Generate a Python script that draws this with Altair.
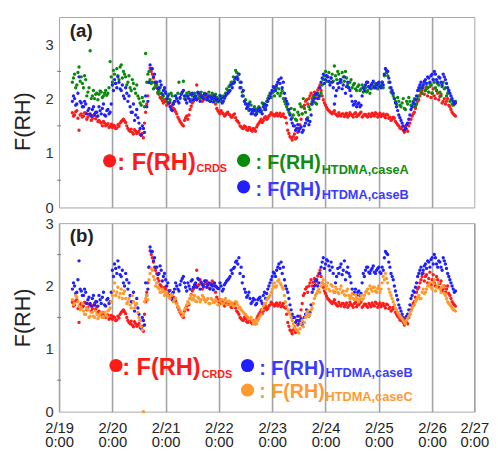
import altair as alt
import pandas as pd

# time axis: hours since 2/19 0:00 (readings on the hour and on the half hour)
hours = list(range(6, 179))
hours_half = [h + 0.5 for h in hours]

crds = [
    1.74, 1.70, 1.78, 1.42, 1.72, 1.68, 1.73, 1.66, 1.70, 1.64, 1.72, 1.67,
    1.60, 1.55, 1.58, 1.50, 1.54, 1.49, 1.47, 1.50, 1.46, 1.49, 1.58, 1.62,
    1.56, 1.45, 1.40, 1.38, 1.43, 1.36, 1.40, 1.32, 1.28, 1.75, 2.05, 2.56,
    2.45, 2.30, 2.20, 2.08, 2.00, 1.92, 1.95, 1.90, 1.93, 1.88, 1.80, 1.72,
    1.62, 1.55, 1.50, 1.65, 1.62, 1.80, 1.92, 1.98, 2.25, 2.02, 2.06, 1.98,
    2.05, 2.02, 1.96, 2.08, 2.00, 1.82, 1.75, 1.78, 1.72, 1.70, 1.75, 1.70,
    1.66, 1.72, 1.60, 1.55, 1.48, 1.45, 1.48, 1.42, 1.46, 1.40, 1.44, 1.48,
    1.55, 1.62, 1.60, 1.67, 1.64, 1.70, 1.72, 1.68, 1.73, 1.70, 1.67, 1.72,
    1.65, 1.42, 1.30, 1.24, 1.35, 1.28, 1.45, 1.62, 1.85, 1.95, 1.90, 2.05,
    2.00, 2.12, 2.08, 2.20, 2.15, 1.98, 1.88, 1.80, 1.76, 1.72, 1.78, 1.70,
    1.74, 1.68, 1.72, 1.70, 1.66, 1.74, 1.69, 1.72, 1.67, 1.70, 1.75, 1.68,
    1.71, 1.66, 1.70, 1.73, 1.68, 1.72, 1.70, 1.67, 1.72, 1.65, 1.70, 1.66,
    1.62, 1.64, 1.55, 1.50, 1.45, 1.42, 1.48, 1.40, 1.55, 1.68, 1.75, 1.90,
    1.98, 2.10, 2.20, 2.15, 2.05, 2.22, 2.10, 2.05, 2.15, 1.98, 2.08, 1.95,
    1.90, 2.00, 1.85, 1.75, 1.70,
]
crds_half = [
    1.68, 1.76, 1.64, 1.70, 1.66, 1.74, 1.62, 1.71, 1.60, 1.69, 1.63, 1.58,
    1.57, 1.50, 1.55, 1.52, 1.47, 1.53, 1.51, 1.45, 1.52, 1.55, 1.60, 1.59,
    1.50, 1.42, 1.44, 1.35, 1.40, 1.38, 1.34, 1.36, 1.55, 1.90, 2.30, 2.50,
    2.38, 2.25, 2.12, 2.02, 1.96, 1.98, 1.88, 1.92, 1.85, 1.82, 1.76, 1.66,
    1.58, 1.52, 1.60, 1.68, 1.70, 1.86, 1.95, 2.02, 2.00, 2.10, 1.95, 2.03,
    2.08, 1.97, 2.04, 2.02, 1.90, 1.78, 1.72, 1.74, 1.68, 1.73, 1.71, 1.66,
    1.70, 1.65, 1.58, 1.50, 1.46, 1.50, 1.43, 1.47, 1.42, 1.45, 1.40, 1.52,
    1.58, 1.56, 1.65, 1.62, 1.68, 1.74, 1.70, 1.71, 1.68, 1.73, 1.69, 1.66,
    1.55, 1.36, 1.28, 1.30, 1.26, 1.38, 1.52, 1.72, 1.88, 1.98, 2.00, 2.10,
    2.06, 2.02, 2.16, 2.25, 2.05, 1.92, 1.84, 1.78, 1.74, 1.75, 1.72, 1.68,
    1.70, 1.72, 1.67, 1.73, 1.69, 1.71, 1.66, 1.74, 1.70, 1.73, 1.66, 1.71,
    1.68, 1.72, 1.67, 1.70, 1.74, 1.66, 1.73, 1.70, 1.68, 1.71, 1.64, 1.60,
    1.66, 1.58, 1.52, 1.46, 1.48, 1.38, 1.44, 1.50, 1.62, 1.72, 1.82, 1.95,
    2.05, 2.15, 2.08, 2.18, 2.12, 2.02, 2.18, 2.00, 2.10, 2.04, 1.92, 2.00,
    1.95, 1.88, 1.80, 1.72, 1.68,
]

case_a = [
    2.30, 2.45, 2.25, 2.58, 2.40, 2.20, 2.35, 2.12, 2.88, 2.05, 2.00, 2.10,
    2.08, 2.12, 2.05, 2.15, 2.10, 2.68, 2.30, 2.45, 2.55, 2.35, 2.62, 2.50,
    2.40, 2.30, 2.20, 2.35, 2.18, 2.25, 2.00, 1.88, 1.95, 2.83, 2.45, 2.35,
    2.30, 2.20, 2.25, 2.15, 2.10, 2.05, 2.12, 2.00, 1.98, 2.05, 1.95, 2.00,
    2.30, 2.08, 2.32, 2.05, 2.02, 2.08, 2.05, 2.10, 2.00, 2.06, 2.12, 2.02,
    2.08, 1.98, 2.05, 2.10, 1.96, 2.02, 2.00, 1.95, 2.05, 2.10, 2.15, 2.25,
    2.30, 2.35, 2.48, 2.45, 2.20, 2.05, 1.98, 1.85, 1.94, 1.80, 1.85, 1.75,
    1.85, 1.78, 1.90, 1.85, 2.00, 2.10, 2.15, 2.05, 2.20, 2.18, 2.10, 2.00,
    1.90, 1.80, 1.72, 1.65, 1.80, 1.60, 1.70, 1.85, 2.00, 1.75, 1.65, 1.80,
    1.95, 2.05, 1.90, 2.00, 2.10, 2.35, 2.50, 2.40, 2.30, 2.45, 2.60, 2.35,
    2.45, 2.30, 2.40, 2.50, 2.25, 2.30, 2.20, 2.28, 2.15, 2.25, 2.18, 2.12,
    2.20, 2.15, 2.10, 2.25, 2.20, 2.27, 2.22, 2.25, 2.20, 2.55, 2.42, 2.20,
    2.10, 2.00, 1.90, 1.95, 1.85, 2.00, 1.80, 1.90, 1.95, 1.85, 2.00, 1.90,
    2.05, 2.20, 2.25, 2.15, 2.20, 2.28, 2.10, 2.30, 2.15, 2.25, 2.05, 2.30,
    2.20, 2.10, 1.95, 1.90, 1.92,
]
case_a_half = [
    2.38, 2.20, 2.48, 2.32, 2.28, 2.42, 2.05, 2.20, 2.00, 2.15, 2.08, 1.98,
    2.14, 2.02, 2.10, 2.06, 2.20, 2.40, 2.52, 2.28, 2.42, 2.58, 2.38, 2.45,
    2.25, 2.42, 2.15, 2.28, 2.10, 2.05, 1.92, 2.02, 1.85, 2.30, 2.50, 2.28,
    2.18, 2.28, 2.10, 2.20, 2.02, 2.15, 1.95, 2.08, 2.10, 1.92, 2.05, 2.10,
    2.00, 2.12, 2.00, 2.10, 2.12, 1.98, 2.08, 2.02, 2.10, 2.00, 2.05, 2.10,
    2.00, 2.12, 1.95, 2.05, 2.08, 1.94, 2.06, 2.02, 2.00, 2.18, 2.22, 2.30,
    2.40, 2.52, 2.38, 2.30, 2.12, 1.95, 1.90, 1.78, 1.88, 1.72, 1.80, 1.82,
    1.76, 1.92, 1.80, 1.95, 2.05, 2.02, 2.12, 2.22, 2.10, 2.05, 2.15, 1.95,
    1.85, 1.75, 1.82, 1.70, 1.62, 1.75, 1.90, 1.72, 1.82, 1.62, 1.85, 1.90,
    2.02, 1.92, 2.10, 2.05, 2.25, 2.42, 2.32, 2.48, 2.38, 2.32, 2.42, 2.50,
    2.35, 2.48, 2.32, 2.38, 2.20, 2.35, 2.25, 2.18, 2.22, 2.15, 2.25, 2.20,
    2.12, 2.22, 2.18, 2.20, 2.28, 2.18, 2.24, 2.30, 2.42, 2.48, 2.30, 2.12,
    2.05, 1.95, 2.02, 1.88, 1.92, 1.82, 1.95, 2.02, 1.88, 1.95, 1.85, 2.00,
    2.15, 2.10, 2.30, 2.22, 2.12, 2.25, 2.35, 2.20, 2.28, 2.12, 2.22, 2.18,
    2.05, 2.15, 1.98, 1.88, 1.95,
]

case_b = [
    1.95, 2.00, 1.90, 2.40, 1.92, 1.85, 1.90, 1.78, 1.72, 1.80, 1.70, 1.75,
    1.85, 1.72, 1.90, 1.68, 1.80, 1.75, 2.25, 2.35, 2.20, 2.30, 2.15, 2.05,
    2.20, 1.95, 1.85, 1.75, 1.60, 1.80, 1.55, 1.33, 1.45, 2.05, 1.95, 2.62,
    2.55, 2.45, 2.30, 2.20, 2.25, 2.15, 2.10, 2.05, 1.85, 1.78, 1.95, 2.00,
    1.92, 2.08, 2.15, 1.98, 2.05, 1.95, 2.10, 2.02, 1.98, 2.10, 2.05, 2.00,
    2.08, 2.02, 1.95, 2.00, 2.05, 1.98, 1.96, 2.00, 1.95, 2.05, 2.10, 2.15,
    2.20, 2.30, 2.40, 2.45, 2.30, 2.15, 1.90, 1.85, 1.80, 1.75, 1.78, 1.72,
    1.80, 1.76, 1.85, 1.80, 1.95, 2.05, 2.15, 2.20, 2.25, 2.35, 2.38, 2.30,
    2.00, 1.90, 1.70, 1.55, 1.50, 1.45, 1.40, 1.48, 1.42, 1.55, 1.60, 1.58,
    1.90, 2.00, 2.10, 2.05, 2.30, 2.45, 2.35, 2.40, 2.25, 2.30, 1.90, 2.15,
    2.20, 2.35, 2.25, 2.10, 2.30, 2.15, 1.95, 1.90, 1.85, 1.92, 1.88, 2.20,
    2.25, 2.30, 2.20, 2.28, 2.22, 2.25, 2.30, 2.20, 2.25, 2.55, 2.50, 2.30,
    2.15, 2.00, 1.85, 1.70, 1.60, 1.50, 1.45, 1.55, 1.70, 1.85, 1.90, 2.05,
    2.20, 2.30, 2.25, 2.35, 2.40, 2.30, 2.45, 2.50, 2.35, 2.40, 2.30, 2.45,
    2.35, 2.20, 2.10, 2.00, 1.90,
]
case_b_half = [
    2.05, 1.88, 2.10, 1.95, 1.85, 1.95, 1.72, 1.82, 1.68, 1.85, 1.75, 1.68,
    1.78, 1.82, 1.70, 1.78, 1.72, 1.90, 2.15, 2.28, 2.40, 2.18, 2.25, 2.00,
    2.10, 2.05, 1.75, 1.90, 1.70, 1.65, 1.45, 1.50, 1.38, 1.85, 2.30, 2.55,
    2.40, 2.30, 2.18, 2.32, 2.08, 2.20, 2.00, 1.92, 1.80, 1.90, 2.05, 1.95,
    2.02, 2.12, 2.05, 1.92, 2.00, 2.08, 1.98, 2.05, 2.12, 1.95, 2.02, 2.08,
    1.98, 2.05, 2.02, 1.94, 2.00, 1.96, 2.05, 1.92, 2.02, 2.08, 2.12, 2.25,
    2.28, 2.38, 2.35, 2.20, 2.05, 1.95, 1.82, 1.90, 1.72, 1.80, 1.70, 1.78,
    1.82, 1.72, 1.90, 1.88, 2.00, 2.10, 2.22, 2.15, 2.30, 2.28, 2.20, 2.10,
    1.95, 1.80, 1.62, 1.50, 1.42, 1.52, 1.45, 1.38, 1.50, 1.62, 1.52, 1.70,
    1.95, 2.08, 2.00, 2.20, 2.38, 2.28, 2.42, 2.32, 2.38, 2.20, 2.05, 2.28,
    2.30, 2.18, 2.40, 2.22, 2.20, 2.05, 1.88, 1.95, 1.90, 1.85, 2.05, 2.15,
    2.30, 2.22, 2.25, 2.32, 2.20, 2.28, 2.22, 2.30, 2.45, 2.52, 2.38, 2.20,
    2.10, 1.92, 1.78, 1.65, 1.55, 1.42, 1.52, 1.62, 1.80, 1.92, 1.98, 2.15,
    2.25, 2.20, 2.32, 2.28, 2.38, 2.42, 2.35, 2.45, 2.30, 2.38, 2.25, 2.40,
    2.28, 2.15, 2.05, 1.95, 1.92,
]

case_c = [
    1.78, 1.72, 1.82, 1.68, 1.65, 1.60, 1.55, 1.62, 1.52, 1.58, 1.50, 1.55,
    1.52, 1.58, 1.50, 1.55, 1.60, 1.65, 1.85, 2.05, 1.90, 1.82, 1.95, 1.88,
    1.80, 1.75, 1.70, 1.85, 1.65, 1.72, 1.50, 1.35, 0.00, 1.80, 1.78, 2.20,
    2.25, 2.10, 2.05, 1.95, 1.90, 1.92, 1.88, 1.85, 1.80, 1.86, 1.78, 1.72,
    1.65, 1.58, 1.55, 1.65, 1.75, 1.80, 1.78, 1.85, 1.75, 1.80, 1.78, 1.82,
    1.75, 1.80, 1.72, 1.78, 1.74, 1.76, 1.70, 1.78, 1.72, 1.80, 1.75, 1.70,
    1.72, 1.68, 1.74, 1.65, 1.62, 1.58, 1.55, 1.50, 1.48, 1.45, 1.42, 1.40,
    1.48, 1.55, 1.68, 1.72, 1.80, 1.85, 1.95, 2.05, 2.00, 2.10, 2.02, 1.95,
    1.75, 1.62, 1.55, 1.45, 1.35, 1.30, 1.25, 1.40, 1.35, 1.50, 1.60, 1.55,
    1.65, 1.80, 1.88, 1.95, 2.00, 2.10, 1.95, 2.05, 1.92, 2.00, 1.90, 1.95,
    1.88, 2.00, 1.92, 1.85, 1.95, 1.80, 1.88, 1.78, 1.82, 1.75, 1.85, 1.80,
    1.90, 1.95, 2.00, 1.92, 1.98, 1.90, 2.00, 1.95, 2.15, 2.20, 2.05, 1.90,
    1.80, 1.70, 1.62, 1.55, 1.50, 1.45, 1.40, 1.48, 1.55, 1.65, 1.70, 1.78,
    1.85, 1.80, 1.95, 1.90, 2.00, 2.05, 1.95, 2.10, 1.98, 2.05, 1.90, 2.00,
    1.85, 1.75, 1.70, 1.65, 1.62,
]
case_c_half = [
    1.70, 1.85, 1.75, 1.62, 1.72, 1.55, 1.65, 1.50, 1.58, 1.52, 1.60, 1.48,
    1.56, 1.50, 1.58, 1.52, 1.62, 1.75, 1.92, 1.85, 1.98, 1.88, 1.80, 1.92,
    1.72, 1.80, 1.65, 1.75, 1.70, 1.58, 1.45, 1.30, 1.75, 1.85, 2.10, 2.28,
    2.15, 2.00, 1.98, 1.90, 1.95, 1.85, 1.90, 1.82, 1.85, 1.75, 1.80, 1.68,
    1.60, 1.52, 1.62, 1.70, 1.72, 1.85, 1.80, 1.76, 1.82, 1.75, 1.85, 1.78,
    1.78, 1.72, 1.80, 1.74, 1.78, 1.70, 1.76, 1.72, 1.78, 1.70, 1.76, 1.74,
    1.68, 1.75, 1.70, 1.66, 1.60, 1.55, 1.52, 1.48, 1.50, 1.40, 1.46, 1.45,
    1.52, 1.62, 1.72, 1.78, 1.82, 1.90, 2.00, 1.98, 2.08, 2.05, 1.98, 1.85,
    1.68, 1.58, 1.50, 1.40, 1.32, 1.28, 1.32, 1.45, 1.42, 1.55, 1.52, 1.62,
    1.72, 1.85, 1.92, 1.90, 2.05, 2.02, 2.00, 1.95, 2.02, 1.92, 1.98, 1.90,
    1.95, 1.90, 1.86, 1.92, 1.85, 1.84, 1.80, 1.86, 1.78, 1.80, 1.78, 1.85,
    1.92, 1.88, 1.95, 1.98, 1.92, 1.96, 1.90, 2.05, 2.10, 2.12, 1.95, 1.85,
    1.75, 1.65, 1.58, 1.52, 1.48, 1.42, 1.45, 1.52, 1.60, 1.68, 1.75, 1.82,
    1.80, 1.90, 1.88, 1.95, 2.02, 1.98, 2.05, 1.92, 2.02, 1.95, 1.98, 1.88,
    1.80, 1.72, 1.68, 1.62, 1.60,
]

for s in (crds, case_a, case_b, case_c, crds_half, case_a_half, case_b_half, case_c_half):
    assert len(s) == len(hours), len(s)

x_tick_hours = [0, 24, 48, 72, 96, 120, 144, 168, 187]
x_tick_dates = ["2/19", "2/20", "2/21", "2/22", "2/23", "2/24", "2/25", "2/26", "2/27"]
x_tick_time = "0:00"
day_grid = [24, 48, 72, 96, 120, 144, 168]
y_ticks = [0, 1, 2, 3]
y_half_ticks = [0.5, 1.5, 2.5]

SERIES = ["CRDS", "caseA", "caseB", "caseC"]
COL = {"CRDS": "#ff1a1a", "caseA": "#0a8a0a", "caseB": "#1f1fff", "caseC": "#ff9a2e"}
TXT = {"CRDS": "#ff1a1a", "caseA": "#118c11", "caseB": "#3b3bff", "caseC": "#ff9a33"}


def long_df(names_vals):
    rows = []
    for name, vals, vals_half in names_vals:
        for h, v in zip(hours, vals):
            rows.append({"h": h, "v": v, "series": name})
        for h, v in zip(hours_half, vals_half):
            rows.append({"h": h, "v": v, "series": name})
    return pd.DataFrame(rows)


df_a = long_df([("CRDS", crds, crds_half), ("caseA", case_a, case_a_half),
                ("caseB", case_b, case_b_half)])
df_b = long_df([("CRDS", crds, crds_half), ("caseB", case_b, case_b_half),
                ("caseC", case_c, case_c_half)])

label_expr = " : ".join(
    f"datum.value == {h} ? ['{d}', '{x_tick_time}']" for h, d in zip(x_tick_hours, x_tick_dates)
) + " : ''"

FONT = "Liberation Sans"
GRID = "#a3a3a3"

x_axis_a = alt.Axis(values=day_grid, grid=True, gridColor=GRID, gridWidth=1.6,
                    labels=False, ticks=False, domain=False, title=None)
x_axis_b = alt.Axis(values=x_tick_hours, grid=True, gridColor=GRID, gridWidth=1.6,
                    labelExpr=label_expr, labelFont=FONT, labelFontSize=15, labelColor="#222",
                    labelAngle=0, labelFlush=False, labelOverlap=False, labelPadding=9,
                    labelLineHeight=15, labelBaseline="top",
                    ticks=False, domain=False, title=None)


def y_axis(title_y):
    kw = dict(values=y_ticks, ticks=False, domain=False, grid=False, labelPadding=6,
              labelFont=FONT, labelFontSize=15, labelColor="#333",
              title="F(RH)", titleFont=FONT, titleFontSize=22, titleFontWeight="normal",
              titleColor="#222", titleX=-37, titleBaseline="middle", titleAngle=270)
    if title_y is not None:
        kw["titleY"] = title_y
    return alt.Axis(**kw)


def one_row():
    return pd.DataFrame({"k": [0]})


def legend_item(key, cx, cy, tx, ty, fs, sub, sx, sy, sfs):
    c = alt.Chart(one_row()).mark_circle(size=180, opacity=1, color=COL[key]).encode(
        x=alt.value(cx), y=alt.value(cy))
    t = alt.Chart(one_row()).mark_text(align="left", baseline="alphabetic", font=FONT,
                                        fontWeight="bold", fontSize=fs, color=TXT[key]).encode(
        x=alt.value(tx), y=alt.value(ty), text=alt.value(": F(RH)"))
    s = alt.Chart(one_row()).mark_text(align="left", baseline="alphabetic", font=FONT,
                                        fontWeight="bold", fontSize=sfs, color=TXT[key]).encode(
        x=alt.value(sx), y=alt.value(sy), text=alt.value(sub))
    return [c, t, s]


def panel(df, ymax, xaxis, yaxis, tag, tag_y, legends, height):
    xs = alt.Scale(domain=[0, 187], nice=False, zero=False)
    ys = alt.Scale(domain=[0, ymax], nice=False)
    pts = alt.Chart(df).mark_circle(size=12, opacity=1).encode(
        x=alt.X("h:Q", scale=xs, axis=xaxis),
        y=alt.Y("v:Q", scale=ys, axis=yaxis),
        color=alt.Color("series:N", scale=alt.Scale(domain=SERIES, range=[COL[k] for k in SERIES]),
                        legend=None),
    )
    half = alt.Chart(pd.DataFrame({"t": y_half_ticks})).mark_rule(color="#777", strokeWidth=1).encode(
        x=alt.value(-2), x2=alt.value(2), y=alt.Y("t:Q", scale=ys, axis=yaxis))
    lab = alt.Chart(one_row()).mark_text(align="left", baseline="alphabetic", font=FONT,
                                          fontWeight="bold", fontSize=19, color="#222").encode(
        x=alt.value(11), y=alt.value(tag_y), text=alt.value(tag))
    layers = [pts, half, lab]
    for lg in legends:
        layers += legend_item(*lg)
    return alt.layer(*layers).properties(width=423, height=height)


legends_a = [
    ("CRDS", 51.5, 146.5, 59.3, 156, 24, "CRDS", 140, 158, 11),
    ("caseA", 188, 146, 200, 155, 20, "HTDMA,caseA", 267.5, 160, 13),
    ("caseB", 188, 173, 200, 182, 20, "HTDMA,caseB", 267.5, 185, 13),
]
legends_b = [
    ("CRDS", 58, 145, 64.3, 155, 24, "CRDS", 145.3, 158, 11),
    ("caseB", 192, 145, 204, 155, 20, "HTDMA,caseB", 271.4, 157, 13),
    ("caseC", 192, 170, 204, 178, 20, "HTDMA,caseC", 271.4, 181, 13),
]

pa = panel(df_a, 3.5, x_axis_a, y_axis(106), "(a)", 20, legends_a, 194)
pb = panel(df_b, 3, x_axis_b, y_axis(None), "(b)", 19, legends_b, 192)

chart = alt.vconcat(pa, pb, spacing=16, bounds="flush").properties(
    padding={"left": 3, "top": 4, "right": 0, "bottom": 0}
).configure_view(stroke="#a6a6a6", strokeWidth=1)

chart.save("out.html", embed_options={"renderer": "svg", "actions": False})
